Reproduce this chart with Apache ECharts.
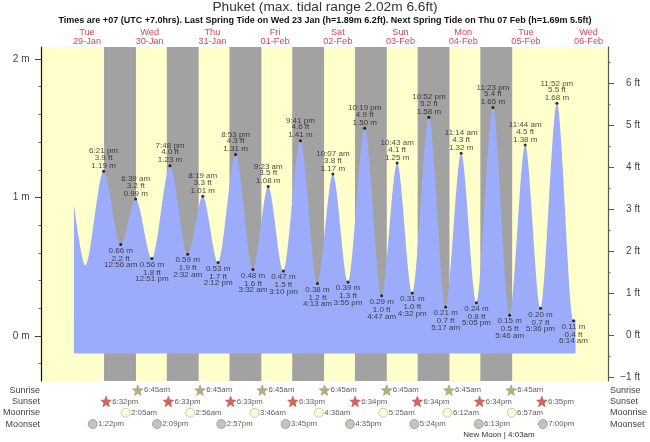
<!DOCTYPE html>
<html><head><meta charset="utf-8">
<style>html,body{margin:0;padding:0;background:#fff}#c{width:650px;height:442px;filter:blur(0.35px)}</style>
<script src="https://cdn.jsdelivr.net/npm/echarts@6/dist/echarts.min.js"></script>
</head><body><div id="c"></div>
<script>
// Hours are counted from 29-Jan 00:00 local time.
const dayHours = [12,36,60,84,108,132,156,180,204];
const dayNames = ['Tue','Wed','Thu','Fri','Sat','Sun','Mon','Tue','Wed'];
const dayDates = ['29-Jan','30-Jan','31-Jan','01-Feb','02-Feb','03-Feb','04-Feb','05-Feb','06-Feb'];

const curveStart = [[7.0,0.95],[11.4,0.51]];
const curveEnd = [[199.0,0.12]];
const tideHours = [18.35,24.93,30.65,36.85,43.8,50.53,56.32,62.2,68.88,75.53,81.38,87.17,93.68,100.22,106.12,111.92,118.32,124.78,130.72,136.53,142.87,149.28,155.23,161.08,167.38,173.77,179.73,185.6,191.87,198.23];
const tideMetres = [1.19,0.66,0.99,0.56,1.23,0.59,1.01,0.53,1.31,0.48,1.08,0.47,1.41,0.38,1.17,0.39,1.50,0.29,1.25,0.31,1.58,0.21,1.32,0.24,1.65,0.15,1.38,0.20,1.68,0.11];
const tideFeet = ['3.9','2.2','3.2','1.8','4.0','1.9','3.3','1.7','4.3','1.6','3.5','1.5','4.6','1.2','3.8','1.3','4.9','1.0','4.1','1.0','5.2','0.7','4.3','0.8','5.4','0.5','4.5','0.7','5.5','0.4'];
const tideTimes = ['6:21 pm','12:56 am','6:39 am','12:51 pm','7:48 pm','2:32 am','8:19 am','2:12 pm','8:53 pm','3:32 am','9:23 am','3:10 pm','9:41 pm','4:13 am','10:07 am','3:55 pm','10:19 pm','4:47 am','10:43 am','4:32 pm','10:52 pm','5:17 am','11:14 am','5:05 pm','11:23 pm','5:46 am','11:44 am','5:36 pm','11:52 pm','6:14 am'];
const tideIsHigh = [1,0,1,0,1,0,1,0,1,0,1,0,1,0,1,0,1,0,1,0,1,0,1,0,1,0,1,0,1,0];

const sunriseHours = [30.75,54.75,78.75,102.75,126.75,150.75,174.75];
const sunriseText = ['6:45am','6:45am','6:45am','6:45am','6:45am','6:45am','6:45am'];
const sunsetHours = [18.53,42.55,66.55,90.55,114.57,138.57,162.57,186.58];
const sunsetText = ['6:32pm','6:33pm','6:33pm','6:33pm','6:34pm','6:34pm','6:34pm','6:35pm'];
const moonriseHours = [26.08,50.93,75.77,100.6,125.42,150.2,174.95];
const moonriseText = ['2:05am','2:56am','3:46am','4:36am','5:25am','6:12am','6:57am'];
const moonsetHours = [13.37,38.15,62.95,87.75,112.58,137.4,162.22,187.0];
const moonsetText = ['1:22pm','2:09pm','2:57pm','3:45pm','4:35pm','5:24pm','6:13pm','7:00pm'];
const rowNames = ['Sunrise','Sunset','Moonrise','Moonset',''];
const metreTicks = [0,1,2];
const metreMinor = [-0.2,0.2,0.4,0.6,0.8,1.2,1.4,1.6,1.8];
const feetTicks = [-1,0,1,2,3,4,5,6];
const feetMinor = [-0.5,0.5,1.5,2.5,3.5,4.5,5.5,6.5];

const BLUE='#9dacfa', GRAY='#a2a2a2', YELLOW='#ffffcc', RED='#d2485c';
const FONT='"Liberation Sans", Arial, sans-serif';
const X0=-5.6, X1=211.43, BASE=-0.126;
const star='path://M50 0 L63 35 L100 38 L71 61 L81 98 L50 77 L19 98 L29 61 L0 38 L37 35 Z';

const curve = curveStart.concat(tideHours.map((h,i)=>[h,tideMetres[i]]), curveEnd);
const nights = sunriseHours.map((r,i)=>[{xAxis:sunsetHours[i]},{xAxis:r}]);
const extreme = tideHours.map((h,i)=>({value:[h,tideMetres[i]],
  label:{position:tideIsHigh[i]?'top':'bottom',distance:tideIsHigh[i]?-0.5:0,
   formatter:tideIsHigh[i]?`{t|${tideTimes[i]}}\n{f|${tideFeet[i]} ft}\n{m|${tideMetres[i].toFixed(2)} m}`
     :`{m|${tideMetres[i].toFixed(2)} m}\n{f|${tideFeet[i]} ft}\n{t|${tideTimes[i]}}`}}));
const rich={t:{fontSize:8,lineHeight:6,fontFamily:FONT,color:'#222'},f:{fontSize:8,lineHeight:7,fontFamily:FONT,color:'#222'},m:{fontSize:8,lineHeight:9,fontFamily:FONT,color:'#222'}};

function row(name,rowI,hours,texts,symbol,size,fill,border){
  return {type:'scatter',name,xAxisIndex:1,yAxisIndex:3,symbol,symbolSize:size,silent:true,
    itemStyle:{color:fill,borderColor:border,borderWidth:0.8},
    data:hours.map((h,i)=>({value:[h,rowI],label:{formatter:texts[i]}})),
    label:{show:true,position:'right',distance:0.5,fontSize:7.8,fontFamily:FONT,color:'#333'}};
}
const xBase={type:'value',min:X0,max:X1,splitLine:{show:false},axisLine:{show:false,onZero:false},axisTick:{show:false}};
const yBase={type:'value',min:-0.325,max:2.087,splitLine:{show:false},gridIndex:0};
const ftMin=-1.083, ftMax=6.87;
const lbl={fontSize:10,fontFamily:FONT,color:'#444',align:'right'};
const option={
 animation:false,backgroundColor:'#fff',
 title:[
  {text:'Phuket (max. tidal range 2.02m 6.6ft)',left:'center',top:0,padding:0,textStyle:{fontSize:13.7,fontWeight:'normal',fontFamily:FONT,color:'#333'}},
  {text:'Times are +07 (UTC +7.0hrs). Last Spring Tide on Wed 23 Jan (h=1.89m 6.2ft). Next Spring Tide on Thu 07 Feb (h=1.69m 5.5ft)',left:'center',top:16,padding:0,textStyle:{fontSize:9,fontWeight:'bold',fontFamily:FONT,color:'#111'}},
  {text:'New Moon | 4:03am',left:499,top:431,padding:0,textAlign:'center',textStyle:{fontSize:8,fontWeight:'normal',fontFamily:FONT,color:'#333'}}
 ],
 grid:[
  {left:41,right:42,top:47,height:334,show:true,backgroundColor:YELLOW,borderWidth:0},
  {left:41,right:42,top:384.5,height:56.5,show:false}
 ],
 xAxis:[
  Object.assign({},xBase,{gridIndex:0,position:'top',axisLabel:{show:true,customValues:dayHours,margin:1,lineHeight:9.3,fontSize:9.2,fontFamily:FONT,color:RED,
    formatter:v=>{const i=dayHours.indexOf(v);return i<0?'':dayNames[i]+'\n'+dayDates[i];}}}),
  Object.assign({},xBase,{gridIndex:1,axisLabel:{show:false}})
 ],
 yAxis:[
  Object.assign({},yBase,{position:'left',axisLine:{show:true,onZero:false,lineStyle:{color:'#111',width:1.2}},
    axisTick:{show:true,length:6,customValues:metreTicks,lineStyle:{color:'#444'}},
    axisLabel:Object.assign({customValues:metreTicks,margin:11.5,formatter:v=>v+' m'},lbl)}),
  Object.assign({},yBase,{position:'left',axisLine:{show:false,onZero:false},
    axisTick:{show:true,length:2.5,customValues:metreMinor,lineStyle:{color:'#666'}},axisLabel:{show:false}}),
  {type:'value',gridIndex:0,min:ftMin,max:ftMax,position:'right',splitLine:{show:false},axisLine:{show:true,onZero:false,lineStyle:{color:'#555',width:1.2}},
    axisTick:{show:true,length:6,customValues:feetTicks,lineStyle:{color:'#555'}},
    axisLabel:Object.assign({customValues:feetTicks,margin:32,formatter:v=>(v<0?'\u2212'+(-v):v)+' ft'},lbl)},
  {type:'category',gridIndex:1,data:rowNames,inverse:true,position:'left',axisLine:{show:false,onZero:false},axisTick:{show:false},splitLine:{show:false},
    axisLabel:{interval:0,margin:3.5,fontSize:9,fontFamily:FONT,color:'#444'}},
  {type:'category',gridIndex:1,data:rowNames,inverse:true,position:'right',axisLine:{show:false,onZero:false},axisTick:{show:false},splitLine:{show:false},
    axisLabel:{interval:0,margin:3.7,fontSize:9,fontFamily:FONT,color:'#444'}},
  {type:'value',gridIndex:0,min:ftMin,max:ftMax,position:'right',splitLine:{show:false},axisLine:{show:false,onZero:false},
    axisTick:{show:true,length:2.5,customValues:feetMinor,lineStyle:{color:'#666'}},axisLabel:{show:false}}
 ],
 series:[
  {type:'line',name:'Night',data:[],xAxisIndex:0,yAxisIndex:0,z:1,silent:true,
    markArea:{silent:true,itemStyle:{color:GRAY},data:nights}},
  {type:'line',name:'Tide',data:curve,xAxisIndex:0,yAxisIndex:0,z:2,showSymbol:false,smooth:0.3,smoothMonotone:'x',
    lineStyle:{width:0},areaStyle:{color:BLUE,opacity:1,origin:BASE},silent:true},
  {type:'scatter',name:'Extremes',data:extreme,xAxisIndex:0,yAxisIndex:0,z:5,symbolSize:3,silent:true,itemStyle:{color:'#000'},
    label:{show:true,rich:rich}},
  {type:'line',data:[],xAxisIndex:0,yAxisIndex:1,silent:true},
  {type:'line',data:[],xAxisIndex:0,yAxisIndex:2,silent:true},
  {type:'line',data:[],xAxisIndex:0,yAxisIndex:5,silent:true},
  {type:'line',data:[],xAxisIndex:1,yAxisIndex:4,silent:true},
  row('Sunrise',0,sunriseHours,sunriseText,star,10.5,'#a3a33a','#999'),
  row('Sunset',1,sunsetHours,sunsetText,star,10.5,'#c9402c','#b55'),
  row('Moonrise',2,moonriseHours,moonriseText,'circle',9,'#ffffcc','#aaa'),
  row('Moonset',3,moonsetHours,moonsetText,'circle',9,'#b5b5a8','#888')
 ]
};
echarts.init(document.getElementById('c'),null,{renderer:'canvas'}).setOption(option);
</script></body></html>
